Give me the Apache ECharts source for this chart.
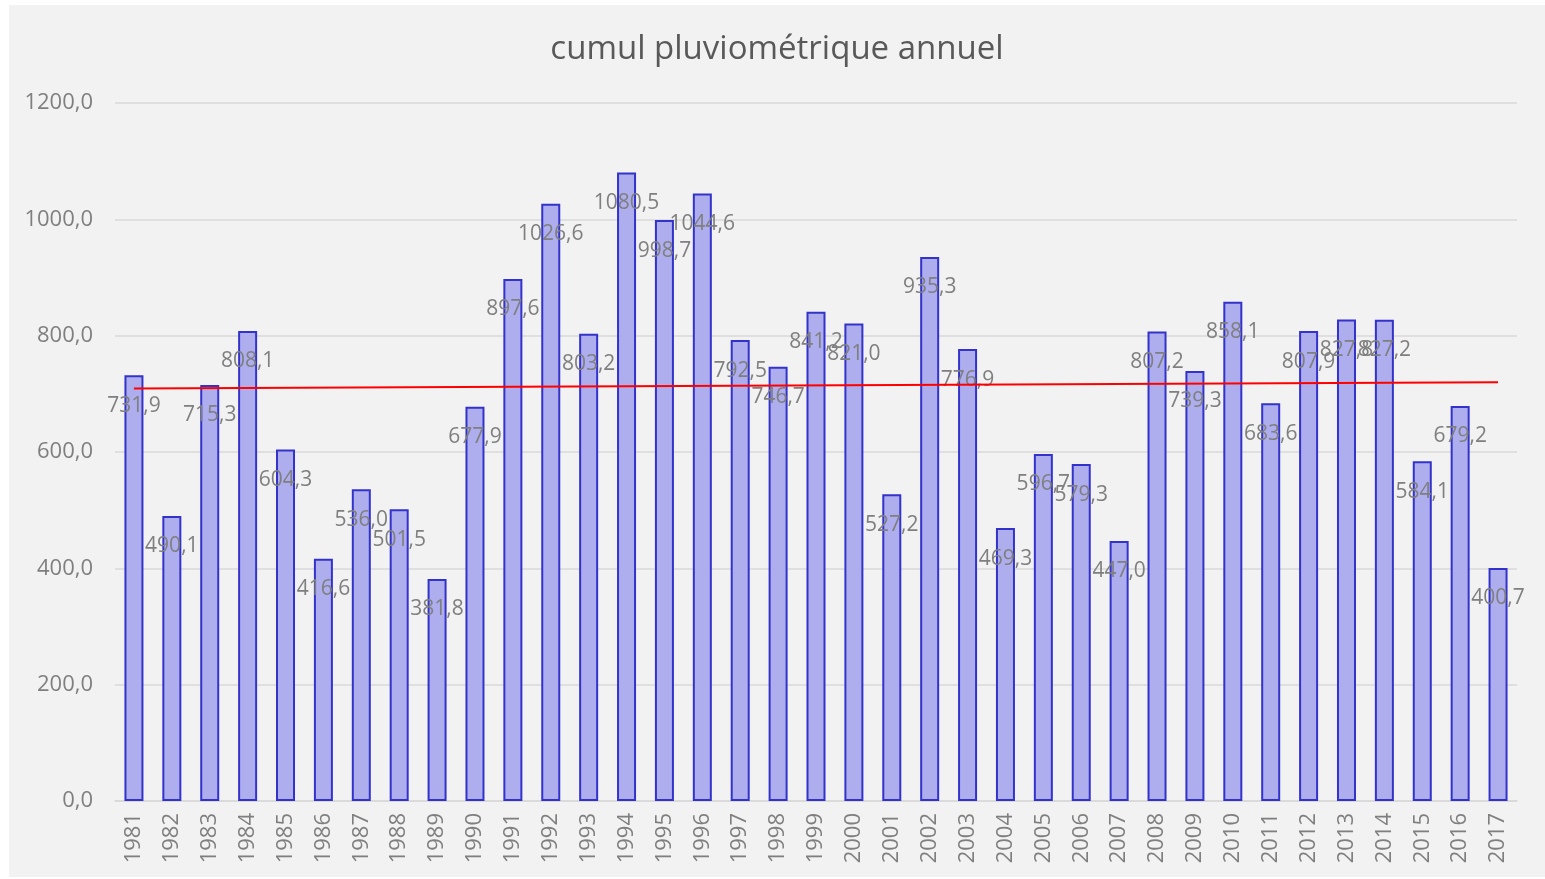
<!DOCTYPE html>
<html>
<head>
<meta charset="utf-8">
<script src="https://cdn.jsdelivr.net/npm/echarts@6/dist/echarts.min.js"></script>
<style>
    html, body { margin: 0; padding: 0; background: #ffffff; }
    #chart { position: absolute; left: 9px; top: 5px; width: 1536px; height: 872px; background: #f2f2f2; }
</style>
</head>
<body>
<div id="chart"></div>
<script>
var years = ['1981', '1982', '1983', '1984', '1985', '1986', '1987', '1988', '1989', '1990',
    '1991', '1992', '1993', '1994', '1995', '1996', '1997', '1998', '1999', '2000',
    '2001', '2002', '2003', '2004', '2005', '2006', '2007', '2008', '2009', '2010',
    '2011', '2012', '2013', '2014', '2015', '2016', '2017'];
var rainfall = [731.9, 490.1, 715.3, 808.1, 604.3, 416.6, 536.0, 501.5, 381.8, 677.9,
    897.6, 1026.6, 803.2, 1080.5, 998.7, 1044.6, 792.5, 746.7, 841.2, 821.0,
    527.2, 935.3, 776.9, 469.3, 596.7, 579.3, 447.0, 807.2, 739.3, 858.1,
    683.6, 807.9, 827.8, 827.2, 584.1, 679.2, 400.7];
// linear trend, ends
var trendStart = 709;
var trendEnd = 720;

(function () {
    var myChart = echarts.init(document.getElementById('chart'));
    var fmt = function (v) { return Number(v).toFixed(1).replace('.', ','); };
    var trend = years.map(function (y, i) {
        if (i === 0) return trendStart;
        if (i === years.length - 1) return trendEnd;
        return null;
    });
    var option = {
        backgroundColor: '#f2f2f2',
        animation: false,
        textStyle: { fontFamily: 'Open Sans' },
        title: {
            text: 'cumul pluviométrique annuel',
            left: 'center',
            top: 28,
            padding: 0,
            textStyle: { fontSize: 33, fontWeight: 'normal', color: '#595959', fontFamily: 'Open Sans' }
        },
        grid: { left: 106, right: 28, top: 98, bottom: 76 },
        xAxis: {
            type: 'category',
            data: years,
            axisTick: { show: false },
            axisLine: { lineStyle: { color: '#d9d9d9', width: 1.5 } },
            axisLabel: { rotate: 90, margin: 12, fontSize: 22, color: '#7f7f7f' }
        },
        yAxis: {
            type: 'value',
            min: 0,
            max: 1200,
            interval: 200,
            axisLine: { show: false },
            axisTick: { show: false },
            splitLine: { lineStyle: { color: '#d9d9d9', width: 1.5 } },
            axisLabel: { fontSize: 22, color: '#7f7f7f', margin: 22, formatter: fmt }
        },
        series: [
            {
                name: 'cumul',
                type: 'bar',
                data: rainfall,
                barWidth: 19,
                itemStyle: { color: '#aeaeee', borderColor: '#3333cc', borderWidth: 2 },
                label: {
                    show: true,
                    position: 'insideTop',
                    distance: 20,
                    fontSize: 21,
                    color: '#7f7f7f',
                    formatter: function (p) { return fmt(p.value); }
                }
            },
            {
                name: 'tendance',
                type: 'line',
                data: trend,
                connectNulls: true,
                symbol: 'none',
                lineStyle: { color: '#ff0000', width: 2 },
                z: 5
            }
        ]
    };
    myChart.setOption(option);
})();
</script>
</body>
</html>
